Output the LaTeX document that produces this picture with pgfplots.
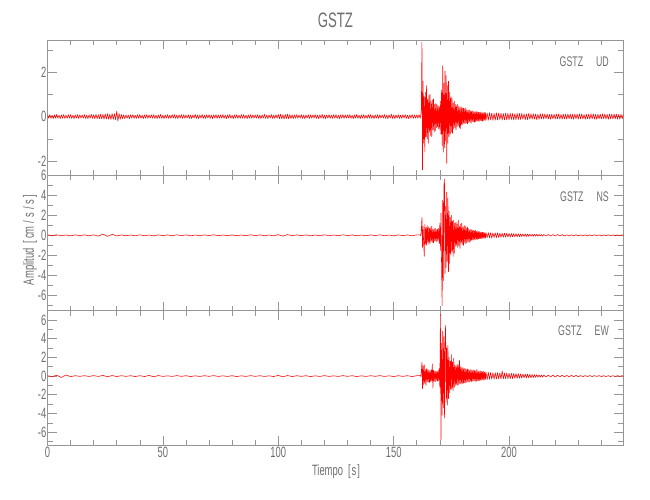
\documentclass[border=0pt]{standalone}
\usepackage{pgfplots}
\pgfplotsset{compat=1.18}
\usepackage{fontspec}
\setmainfont{Liberation Sans}[FakeStretch=0.63]
\definecolor{axgray}{RGB}{150,150,150}
\definecolor{txtgray}{RGB}{110,110,110}
\pgfplotsset{
 seis/.style={
  scale only axis, anchor=south west,
  width=575.8bp, height=134.5bp,
  xmin=0, xmax=249.5,
  xtick={0,50,100,150,200},
  minor xtick={10,20,30,40,60,70,80,90,110,120,130,140,160,170,180,190,210,220,230,240},
  tick align=inside,
  major tick length=9bp, minor tick length=5bp,
  axis line style={axgray, line width=0.6bp},
  every tick/.style={axgray, line width=0.6bp},
  tick label style={text=txtgray, font=\fontsize{15}{15}\selectfont},
  yticklabel style={inner sep=1bp},
  xticklabel style={yshift=1.5bp},
  /pgf/number format/assume math mode=true,
 },
 trace/.style={red, line width=0.55bp, line join=round}
}
\begin{document}
\begin{tikzpicture}
\useasboundingbox (0,0) rectangle (650bp,500bp);
% ---------------- UD ----------------
\begin{axis}[seis, at={(47.5bp,325bp)}, ymin=-2.63, ymax=3.43,
  ytick={-2,0,2}, minor ytick={-1,1,3}, xticklabels={}]
\addplot[trace] coordinates {
(0,0.08)(0.5,-0.07)(1,0.09)(1.5,-0.08)(2,0.07)(2.5,-0.09)(3,0.08)(3.5,-0.07)(4,0.10)(4.5,-0.08)
(5,0.07)(5.5,-0.09)(6,0.08)(6.5,-0.07)(7,0.09)(7.5,-0.08)(8,0.07)(8.5,-0.08)(9,0.09)(9.5,-0.07)
(10,0.09)(10.5,-0.08)(11,0.07)(11.5,-0.09)(12,0.08)(12.5,-0.07)(13,0.09)(13.5,-0.08)(14,0.08)(14.5,-0.07)
(15,0.08)(15.5,-0.07)(16,0.09)(16.5,-0.08)(17,0.07)(17.5,-0.09)(18,0.08)(18.5,-0.07)(19,0.10)(19.5,-0.08)
(20,0.08)(20.5,-0.09)(21,0.10)(21.5,-0.09)(22,0.09)(22.5,-0.10)(23,0.11)(23.5,-0.10)(24,0.10)(24.5,-0.11)
(25,0.12)(25.5,-0.11)(26,0.13)(26.5,-0.12)(27,0.11)(27.5,-0.13)(28,0.14)(28.5,-0.12)(29,0.13)(29.5,-0.14)
(30,0.24)(30.5,-0.20)(31,0.14)(31.5,-0.12)(32,0.10)(32.5,-0.09)(33,0.08)(33.5,-0.09)(34,0.08)(34.5,-0.07)
(35,0.07)(35.5,-0.09)(36,0.08)(36.5,-0.07)(37,0.09)(37.5,-0.08)(38,0.07)(38.5,-0.08)(39,0.09)(39.5,-0.07)
(40,0.09)(40.5,-0.08)(41,0.07)(41.5,-0.09)(42,0.08)(42.5,-0.07)(43,0.09)(43.5,-0.08)(44,0.08)(44.5,-0.07)
(45,0.08)(45.5,-0.07)(46,0.09)(46.5,-0.08)(47,0.07)(47.5,-0.09)(48,0.08)(48.5,-0.07)(49,0.10)(49.5,-0.08)
(50,0.07)(50.5,-0.09)(51,0.08)(51.5,-0.07)(52,0.09)(52.5,-0.08)(53,0.07)(53.5,-0.08)(54,0.09)(54.5,-0.07)
(55,0.09)(55.5,-0.08)(56,0.07)(56.5,-0.09)(57,0.08)(57.5,-0.07)(58,0.09)(58.5,-0.08)(59,0.08)(59.5,-0.07)
(60,0.08)(60.5,-0.07)(61,0.09)(61.5,-0.08)(62,0.07)(62.5,-0.09)(63,0.08)(63.5,-0.07)(64,0.10)(64.5,-0.08)
(65,0.07)(65.5,-0.09)(66,0.08)(66.5,-0.07)(67,0.09)(67.5,-0.08)(68,0.07)(68.5,-0.08)(69,0.09)(69.5,-0.07)
(70,0.09)(70.5,-0.08)(71,0.07)(71.5,-0.09)(72,0.08)(72.5,-0.07)(73,0.09)(73.5,-0.08)(74,0.08)(74.5,-0.07)
(75,0.08)(75.5,-0.07)(76,0.09)(76.5,-0.08)(77,0.07)(77.5,-0.09)(78,0.08)(78.5,-0.07)(79,0.10)(79.5,-0.08)
(80,0.07)(80.5,-0.09)(81,0.08)(81.5,-0.07)(82,0.09)(82.5,-0.08)(83,0.07)(83.5,-0.08)(84,0.09)(84.5,-0.07)
(85,0.09)(85.5,-0.08)(86,0.07)(86.5,-0.09)(87,0.08)(87.5,-0.07)(88,0.09)(88.5,-0.08)(89,0.08)(89.5,-0.07)
(90,0.08)(90.5,-0.07)(91,0.09)(91.5,-0.08)(92,0.07)(92.5,-0.09)(93,0.08)(93.5,-0.07)(94,0.10)(94.5,-0.08)
(95,0.07)(95.5,-0.09)(96,0.08)(96.5,-0.07)(97,0.09)(97.5,-0.08)(98,0.07)(98.5,-0.08)(99,0.09)(99.5,-0.07)
(100,0.10)(100.5,-0.09)(101,0.11)(101.5,-0.10)(102,0.09)(102.5,-0.11)(103,0.10)(103.5,-0.09)(104,0.11)(104.5,-0.10)
(105,0.10)(105.5,-0.09)(106,0.08)(106.5,-0.09)(107,0.08)(107.5,-0.07)(108,0.09)(108.5,-0.08)(109,0.08)(109.5,-0.07)
(110,0.09)(110.5,-0.08)(111,0.07)(111.5,-0.09)(112,0.08)(112.5,-0.07)(113,0.09)(113.5,-0.08)(114,0.08)(114.5,-0.07)
(115,0.08)(115.5,-0.07)(116,0.09)(116.5,-0.08)(117,0.07)(117.5,-0.09)(118,0.08)(118.5,-0.07)(119,0.10)(119.5,-0.08)
(120,0.07)(120.5,-0.09)(121,0.08)(121.5,-0.07)(122,0.09)(122.5,-0.08)(123,0.07)(123.5,-0.08)(124,0.09)(124.5,-0.07)
(125,0.09)(125.5,-0.08)(126,0.07)(126.5,-0.09)(127,0.08)(127.5,-0.07)(128,0.09)(128.5,-0.08)(129,0.08)(129.5,-0.07)
(130,0.08)(130.5,-0.07)(131,0.09)(131.5,-0.08)(132,0.07)(132.5,-0.09)(133,0.08)(133.5,-0.07)(134,0.10)(134.5,-0.08)
(135,0.07)(135.5,-0.09)(136,0.08)(136.5,-0.07)(137,0.09)(137.5,-0.08)(138,0.07)(138.5,-0.08)(139,0.09)(139.5,-0.07)
(140,0.09)(140.5,-0.08)(141,0.07)(141.5,-0.09)(142,0.08)(142.5,-0.07)(143,0.09)(143.5,-0.08)(144,0.08)(144.5,-0.07)
(145,0.08)(145.5,-0.07)(146,0.09)(146.5,-0.08)(147,0.07)(147.5,-0.09)(148,0.08)(148.5,-0.07)(149,0.10)(149.5,-0.08)
(150,0.07)(150.5,-0.09)(151,0.08)(151.5,-0.07)(152,0.09)(152.5,-0.08)(153,0.07)(153.5,-0.08)(154,0.09)(154.5,-0.07)
(155,0.09)(155.5,-0.08)(156,0.07)(156.5,-0.09)(157,0.08)(157.5,-0.07)(158,0.09)(158.5,-0.08)(159,0.08)(159.5,-0.07)
(160,0.08)(160.5,-0.07)(161,0.09)
(161.5,-0.08)(161.75,0.07)(162,0.35)(162.25,3.34)(162.5,-2.40)(162.75,1.60)(163,-1.20)(163.25,0.90)(163.5,-1.60)(163.75,1.10)
(164,-0.90)(164.25,1.40)(164.5,-1.00)(164.75,0.80)(165,-1.20)(165.25,0.95)(165.5,-0.70)(165.75,1.00)(166,-0.85)(166.25,0.70)
(166.5,-0.90)(166.75,0.75)(167,-0.60)(167.25,0.80)(167.5,-0.70)(167.75,0.55)(168,-0.65)(168.25,0.60)(168.5,-0.50)(168.75,0.55)
(169,-0.45)(169.25,0.50)(169.5,-0.55)(169.75,0.45)(170,-0.60)(170.25,0.70)(170.5,-0.80)(170.75,1.20)(171,-1.30)(171.25,2.29)
(171.5,-1.60)(171.75,1.50)(172,-1.40)(172.25,2.05)(172.5,-1.10)(172.75,1.85)(173,-2.10)(173.25,1.40)(173.5,-1.20)(173.75,1.60)
(174,-0.90)(174.25,1.10)(174.5,-0.80)(174.75,0.90)(175,-0.70)(175.25,0.85)(175.5,-0.75)(175.75,0.60)(176,-0.55)(176.25,0.70)
(176.5,-0.50)(176.75,0.55)(177,-0.60)(177.25,0.50)(177.5,-0.45)(177.75,0.55)(178,-0.40)(178.25,0.45)(178.5,-0.50)(178.75,0.40)
(179,-0.55)(179.25,0.45)(179.5,-0.35)(179.75,0.40)(180,-0.35)(180.25,0.38)(180.5,-0.32)(180.75,0.35)(181,-0.30)(181.25,0.40)
(181.5,-0.28)(181.75,0.30)(182,-0.33)(182.25,0.28)(182.5,-0.26)(182.75,0.30)(183,-0.25)(183.25,0.27)(183.5,-0.30)(183.75,0.24)
(184,-0.22)(184.25,0.26)(184.5,-0.24)(184.75,0.22)(185,-0.25)(185.25,0.21)(185.5,-0.23)(185.75,0.24)(186,-0.20)(186.25,0.22)
(186.5,-0.21)(186.75,0.19)(187,-0.22)(187.25,0.20)(187.5,-0.18)(187.75,0.21)(188,-0.19)(188.25,0.18)(188.5,-0.20)(188.75,0.17)
(189,-0.18)(189.25,0.19)(189.5,-0.16)(189.75,0.18)(190,-0.17)
(190.5,0.17)(191,-0.16)(191.5,0.18)(192,-0.15)(192.5,0.16)(193,-0.17)(193.5,0.15)(194,-0.16)(194.5,0.17)
(195,-0.15)(195.5,0.16)(196,-0.14)(196.5,0.15)(197,-0.16)(197.5,0.14)(198,-0.15)(198.5,0.16)(199,-0.14)(199.5,0.15)
(200,-0.14)(200.5,0.15)(201,-0.13)(201.5,0.14)(202,-0.15)(202.5,0.13)(203,-0.14)(203.5,0.15)(204,-0.13)(204.5,0.14)
(205,-0.13)(205.5,0.14)(206,-0.12)(206.5,0.13)(207,-0.14)(207.5,0.12)(208,-0.13)(208.5,0.14)(209,-0.12)(209.5,0.13)
(210,-0.12)(210.5,0.13)(211,-0.11)(211.5,0.12)(212,-0.13)(212.5,0.11)(213,-0.12)(213.5,0.13)(214,-0.11)(214.5,0.12)
(215,-0.11)(215.5,0.12)(216,-0.10)(216.5,0.12)(217,-0.11)(217.5,0.10)(218,-0.12)(218.5,0.11)(219,-0.10)(219.5,0.11)
(220,-0.11)(220.5,0.12)(221,-0.10)(221.5,0.12)(222,-0.11)(222.5,0.10)(223,-0.12)(223.5,0.11)(224,-0.10)(224.5,0.11)
(225,-0.11)(225.5,0.12)(226,-0.10)(226.5,0.12)(227,-0.11)(227.5,0.10)(228,-0.12)(228.5,0.11)(229,-0.10)(229.5,0.11)
(230,-0.11)(230.5,0.12)(231,-0.10)(231.5,0.12)(232,-0.11)(232.5,0.10)(233,-0.12)(233.5,0.11)(234,-0.10)(234.5,0.11)
(235,-0.11)(235.5,0.12)(236,-0.10)(236.5,0.12)(237,-0.11)(237.5,0.10)(238,-0.12)(238.5,0.11)(239,-0.10)(239.5,0.11)
(240,-0.11)(240.5,0.12)(241,-0.10)(241.5,0.12)(242,-0.11)(242.5,0.10)(243,-0.12)(243.5,0.11)(244,-0.10)(244.5,0.11)
(245,-0.11)(245.5,0.12)(246,-0.10)(246.5,0.12)(247,-0.11)(247.5,0.10)(248,-0.12)(248.5,0.11)(249,-0.10)(249.5,0.11)
};
\end{axis}
% ---------------- NS ----------------
\begin{axis}[seis, at={(47.5bp,189.3bp)}, ymin=-7.5, ymax=6.0, height=135.7bp,
  ytick={-6,-4,...,6}, minor ytick={-7,-5,...,5}, xticklabels={}]
\addplot[trace] coordinates {
(0,0.04)(2,-0.03)(4,0.05)(6,-0.04)(8,0.03)(10,-0.05)(12,0.04)(14,-0.03)(16,0.04)(18,-0.04)
(20,0.05)(22,-0.08)(24,0.12)(26,-0.10)(28,0.09)(30,-0.06)(32,0.04)(34,-0.05)(36,0.03)(38,-0.04)
(40,0.05)(42,-0.04)(44,0.03)(46,-0.05)(48,0.04)(50,-0.03)(52,0.04)(54,-0.04)(56,0.05)(58,-0.03)
(60,0.04)(62,-0.05)(64,0.03)(66,-0.04)(68,0.04)(70,-0.03)(72,0.05)(74,-0.04)(76,0.03)(78,-0.04)
(80,0.04)(82,-0.05)(84,0.03)(86,-0.04)(88,0.05)(90,-0.03)(92,0.04)(94,-0.04)(96,0.03)(98,-0.05)
(100,0.06)(102,-0.08)(104,0.07)(106,-0.05)(108,0.04)(110,-0.03)(112,0.04)(114,-0.05)(116,0.03)(118,-0.04)
(120,0.05)(122,-0.04)(124,0.03)(126,-0.04)(128,0.05)(130,-0.03)(132,0.04)(134,-0.05)(136,0.03)(138,-0.04)
(140,0.04)(142,-0.03)(144,0.05)(146,-0.04)(148,0.03)(150,-0.05)(152,0.04)(154,-0.03)(156,0.04)(158,-0.05)
(160,0.04)
(161.5,0.05)(161.75,-0.04)(162,0.60)(162.25,1.80)(162.5,-1.20)(162.75,0.90)(163,-0.80)(163.25,-2.10)(163.5,1.10)(163.75,-0.90)
(164,0.80)(164.25,-1.00)(164.5,1.00)(164.75,-0.70)(165,0.85)(165.25,-0.90)(165.5,0.70)(165.75,-0.80)(166,0.75)(166.25,-0.60)
(166.5,0.90)(166.75,-0.70)(167,0.60)(167.25,-0.75)(167.5,0.65)(167.75,-0.55)(168,0.70)(168.25,-0.60)(168.5,0.55)(168.75,-0.65)
(169,0.60)(169.25,-0.50)(169.5,0.70)(169.75,-0.80)(170,1.20)(170.25,-1.50)(170.5,2.20)(170.75,-3.00)(171,-7.00)(171.25,3.50)
(171.5,-4.50)(171.75,4.80)(172,5.60)(172.25,-3.80)(172.5,2.90)(172.75,-3.20)(173,4.30)(173.25,-2.60)(173.5,3.70)(173.75,-3.60)
(174,2.40)(174.25,-2.80)(174.5,1.80)(174.75,-1.90)(175,2.00)(175.25,-1.60)(175.5,1.40)(175.75,-2.10)(176,1.50)(176.25,-1.80)
(176.5,1.20)(176.75,-1.10)(177,1.30)(177.25,-1.00)(177.5,1.10)(177.75,-1.20)(178,1.50)(178.25,-1.00)(178.5,0.90)(178.75,-1.30)
(179,1.10)(179.25,-0.80)(179.5,1.20)(179.75,-0.90)(180,0.80)(180.25,-1.00)(180.5,1.00)(180.75,-0.70)(181,0.90)(181.25,-0.85)
(181.5,0.70)(181.75,-0.75)(182,0.80)(182.25,-0.60)(182.5,0.65)(182.75,-0.70)(183,0.55)(183.25,-0.60)(183.5,0.60)(183.75,-0.50)
(184,0.55)(184.25,-0.45)(184.5,0.50)(184.75,-0.50)(185,0.45)(185.25,-0.40)(185.5,0.50)(185.75,-0.45)(186,0.40)(186.25,-0.42)
(186.5,0.38)(186.75,-0.35)(187,0.40)(187.25,-0.36)(187.5,0.33)(187.75,-0.35)(188,0.30)(188.25,-0.32)(188.5,0.30)(188.75,-0.28)
(189,0.30)(189.25,-0.27)(189.5,0.25)(189.75,-0.28)(190,0.26)
(190.5,-0.25)(191,0.27)(191.5,-0.24)(192,0.26)(192.5,-0.28)(193,0.24)(193.5,-0.22)(194,0.25)(194.5,-0.23)
(195,0.25)(195.5,-0.21)(196,0.22)(196.5,-0.20)(197,0.22)(197.5,-0.19)(198,0.21)(198.5,-0.19)(199,0.20)(199.5,-0.18)
(200,0.19)(200.5,-0.17)(201,0.18)(201.5,-0.16)(202,0.17)(202.5,-0.15)(203,0.16)(203.5,-0.15)(204,0.15)(204.5,-0.14)
(205,0.14)(205.5,-0.13)(206,0.14)(206.5,-0.12)(207,0.13)(207.5,-0.12)(208,0.12)(208.5,-0.11)(209,0.12)(209.5,-0.10)
(210,0.11)(210.5,-0.10)(211,0.10)(211.5,-0.09)(212,0.10)(212.5,-0.09)(213,0.09)(213.5,-0.08)(214,0.08)(214.5,-0.08)
(215,0.08)(216,-0.07)(217,0.08)(218,-0.07)(219,0.07)
(220,-0.07)(221,0.08)(222,-0.06)(223,0.07)(224,-0.06)(225,0.05)(226,-0.06)(227,0.05)(228,-0.05)(229,0.06)
(230,-0.05)(231,0.04)(232,-0.05)(233,0.04)(234,-0.05)(235,0.04)(236,-0.04)(237,0.05)(238,-0.04)(239,0.04)
(240,-0.05)(241,0.04)(242,-0.04)(243,0.05)(244,-0.04)(245,0.04)(246,-0.05)(247,0.04)(248,-0.04)(249,0.05)(249.5,-0.04)
};
\end{axis}
% ---------------- EW ----------------
\begin{axis}[seis, at={(47.5bp,55bp)}, ymin=-7.37, ymax=6.99, height=134.3bp,
  ytick={-6,-4,...,6}, minor ytick={-7,-5,...,5}]
\addplot[trace] coordinates {
(0,0.04)(2,-0.05)(4,0.08)(6,-0.15)(8,0.12)(10,-0.06)(12,0.04)(14,-0.03)(16,0.04)(18,-0.04)
(20,0.05)(22,-0.04)(24,0.07)(26,-0.08)(28,0.06)(30,-0.05)(32,0.04)(34,-0.03)(36,0.04)(38,-0.05)
(40,0.04)(42,-0.05)(44,0.07)(46,-0.08)(48,0.06)(50,-0.04)(52,0.03)(54,-0.04)(56,0.05)(58,-0.03)
(60,0.04)(62,-0.05)(64,0.03)(66,-0.04)(68,0.04)(70,-0.03)(72,0.05)(74,-0.04)(76,0.03)(78,-0.04)
(80,0.04)(82,-0.05)(84,0.03)(86,-0.04)(88,0.05)(90,-0.03)(92,0.04)(94,-0.04)(96,0.03)(98,-0.05)
(100,0.07)(102,-0.08)(104,0.06)(106,-0.05)(108,0.04)(110,-0.03)(112,0.04)(114,-0.05)(116,0.03)(118,-0.04)
(120,0.05)(122,-0.04)(124,0.03)(126,-0.04)(128,0.05)(130,-0.03)(132,0.04)(134,-0.05)(136,0.03)(138,-0.04)
(140,0.04)(142,-0.03)(144,0.05)(146,-0.04)(148,0.03)(150,-0.05)(152,0.04)(154,-0.03)(156,0.04)(158,-0.05)
(160,0.04)
(161.5,0.05)(161.75,-0.04)(162,0.50)(162.25,1.50)(162.5,-1.34)(162.75,1.10)(163,-0.90)(163.25,1.20)(163.5,-0.80)(163.75,0.70)
(164,-1.00)(164.25,0.80)(164.5,-0.60)(164.75,0.70)(165,-0.65)(165.25,0.60)(165.5,-0.70)(165.75,0.55)(166,-0.60)(166.25,0.70)
(166.5,-0.50)(166.75,1.30)(167,-1.30)(167.25,0.60)(167.5,-0.55)(167.75,0.50)(168,-0.60)(168.25,0.55)(168.5,-0.45)(168.75,0.50)
(169,-0.55)(169.25,0.60)(169.5,-0.50)(169.75,0.80)(170,-1.20)(170.25,6.60)(170.5,-6.80)(170.75,3.50)(171,-4.20)(171.25,4.80)
(171.5,-3.40)(171.75,4.20)(172,-4.50)(172.25,3.60)(172.5,5.40)(172.75,-2.80)(173,3.00)(173.25,-3.10)(173.5,3.30)(173.75,-2.40)
(174,2.00)(174.25,-1.80)(174.5,1.60)(174.75,-1.50)(175,2.30)(175.25,-1.40)(175.5,1.50)(175.75,-1.60)(176,1.90)(176.25,-1.20)
(176.5,1.20)(176.75,-1.00)(177,1.10)(177.25,-0.90)(177.5,1.30)(177.75,-1.00)(178,1.20)(178.25,-0.90)(178.5,1.70)(178.75,-0.80)
(179,1.00)(179.25,-0.85)(179.5,0.90)(179.75,-0.80)(180,0.90)(180.25,-0.75)(180.5,0.85)(180.75,-0.70)(181,0.80)(181.25,-0.75)
(181.5,0.70)(181.75,-0.65)(182,0.75)(182.25,-0.60)(182.5,0.70)(182.75,-0.65)(183,0.65)(183.25,-0.55)(183.5,0.70)(183.75,-0.60)
(184,0.60)(184.25,-0.55)(184.5,0.65)(184.75,-0.50)(185,0.60)(185.25,-0.55)(185.5,0.55)(185.75,-0.60)(186,0.70)(186.25,-0.50)
(186.5,0.55)(186.75,-0.45)(187,0.50)(187.25,-0.50)(187.5,0.55)(187.75,-0.45)(188,0.50)(188.25,-0.40)(188.5,0.45)(188.75,-0.45)
(189,0.50)(189.25,-0.40)(189.5,0.45)(189.75,-0.35)(190,0.40)
(190.5,-0.38)(191,0.40)(191.5,-0.35)(192,0.38)(192.5,-0.33)(193,0.36)(193.5,-0.34)(194,0.37)(194.5,-0.32)
(195,0.36)(195.5,-0.30)(196,0.34)(196.5,-0.31)(197,0.55)(197.5,-0.30)(198,0.32)(198.5,-0.29)(199,0.33)(199.5,-0.30)
(200,0.30)(200.5,-0.28)(201,0.29)(201.5,-0.26)(202,0.28)(202.5,-0.25)(203,0.27)(203.5,-0.24)(204,0.26)(204.5,-0.23)
(205,0.24)(205.5,-0.22)(206,0.23)(206.5,-0.20)(207,0.22)(207.5,-0.19)(208,0.20)(208.5,-0.18)(209,0.19)(209.5,-0.17)
(210,0.17)(210.5,-0.16)(211,0.15)(211.5,-0.14)(212,0.14)(212.5,-0.13)(213,0.13)(213.5,-0.12)(214,0.12)(214.5,-0.11)
(215,0.11)(216,-0.10)(217,0.11)(218,-0.10)(219,0.11)
(220,-0.10)(221,0.09)(222,-0.08)(223,0.09)(224,-0.08)(225,0.07)(226,-0.08)(227,0.07)(228,-0.06)(229,0.07)
(230,-0.06)(231,0.05)(232,-0.06)(233,0.05)(234,-0.05)(235,0.06)(236,-0.05)(237,0.05)(238,-0.04)(239,0.05)
(240,-0.05)(241,0.04)(242,-0.05)(243,0.04)(244,-0.05)(245,0.04)(246,-0.04)(247,0.05)(248,-0.04)(249,0.05)(249.5,-0.04)
};
\end{axis}
% ---------------- texts ----------------
\node[text=txtgray, font=\fontsize{21}{21}\selectfont] at (335.4bp,480bp) {GSTZ};
\node[text=txtgray, font=\fontsize{14}{14}\selectfont, anchor=east, inner sep=0pt] at (609bp,438bp) {GSTZ\hspace{13bp}UD};
\node[text=txtgray, font=\fontsize{14}{14}\selectfont, anchor=east, inner sep=0pt] at (609bp,303bp) {GSTZ\hspace{13bp}NS};
\node[text=txtgray, font=\fontsize{14}{14}\selectfont, anchor=east, inner sep=0pt] at (609bp,169bp) {GSTZ\hspace{13bp}EW};
\node[text=txtgray, font=\fontsize{15}{15}\selectfont, rotate=90] at (30bp,260bp) {Amplitud\hspace{5bp}[\hspace{2bp}cm\hspace{3bp}/\hspace{3bp}s\hspace{3bp}/\hspace{3bp}s\hspace{2bp}]};
\node[text=txtgray, font=\fontsize{15}{15}\selectfont] at (336bp,28bp) {Tiempo\hspace{5bp}[\hspace{1bp}s\hspace{1bp}]};
\end{tikzpicture}
\end{document}
